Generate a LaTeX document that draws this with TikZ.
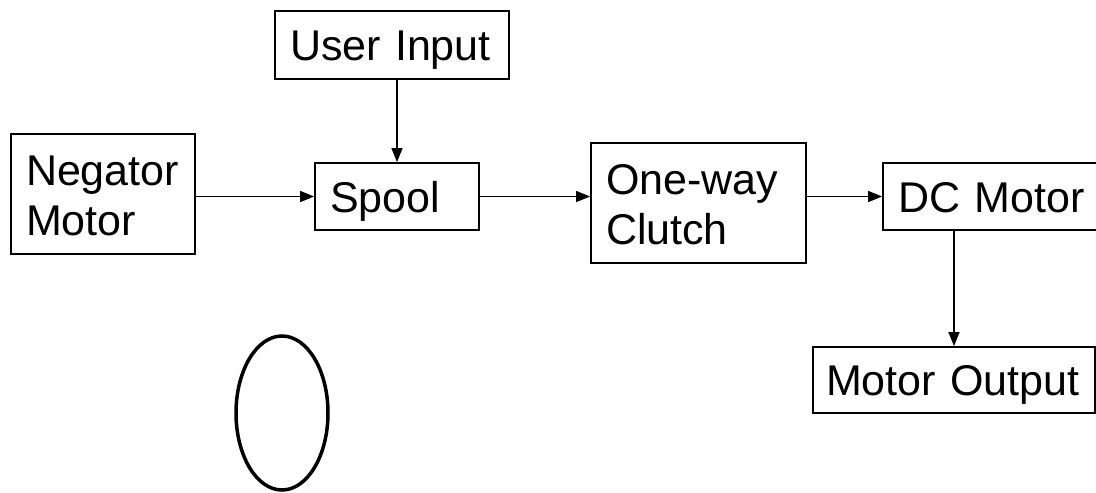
\documentclass[tikz,border=0pt]{standalone}
\usepackage{fontspec}
\setmainfont{Liberation Sans}
\usepackage{tikz}
\usetikzlibrary{arrows.meta,positioning}

\begin{document}
\begin{tikzpicture}[
  x=1pt, y=-1pt,
  font=\fontsize{43}{50}\selectfont,
  every node/.style={align=left},
  box/.style={draw, line width=1.8pt, inner xsep=15pt, inner ysep=0pt},
  oneline/.style={box, text height=31pt, text depth=0pt},
  twoline/.style={box, text height=30pt, text depth=48pt},
  arr/.style={-{Triangle[length=14pt,width=11pt]}, line width=1.4pt}
]
\useasboundingbox (0,0) rectangle (1096,493);

\node[twoline, text width=154pt, minimum height=120pt] (neg) at (103,194) {Negator\\Motor};
\node[oneline, text width=204pt, minimum height=68pt] (user) at (392,45) {User Input};
\node[oneline, text width=134pt, minimum height=67pt] (spool) at (397,196.5) {Spool};
\node[twoline, text width=185pt, minimum height=120pt] (clutch) at (698.5,203) {One-way\\Clutch};
\node[oneline, text width=190pt, minimum height=67pt] (dc) at (993,196.5) {DC Motor};
\node[oneline, text width=256pt, inner xsep=13pt, minimum height=66pt] (out) at (954,380) {Motor Output};

\draw[arr] (neg.east |- spool.west) -- (spool.west);
\draw[arr] (spool.north |- user.south) -- (spool.north);
\draw[arr] (spool.east) -- (spool.east -| clutch.west);
\draw[arr] (dc.west -| clutch.east) -- (dc.west);
\draw[arr] (out.north |- dc.south) -- (out.north);

% circled mark below
\draw[line width=3.5pt] (282,413) ellipse (46 and 77);
\end{tikzpicture}
\end{document}
